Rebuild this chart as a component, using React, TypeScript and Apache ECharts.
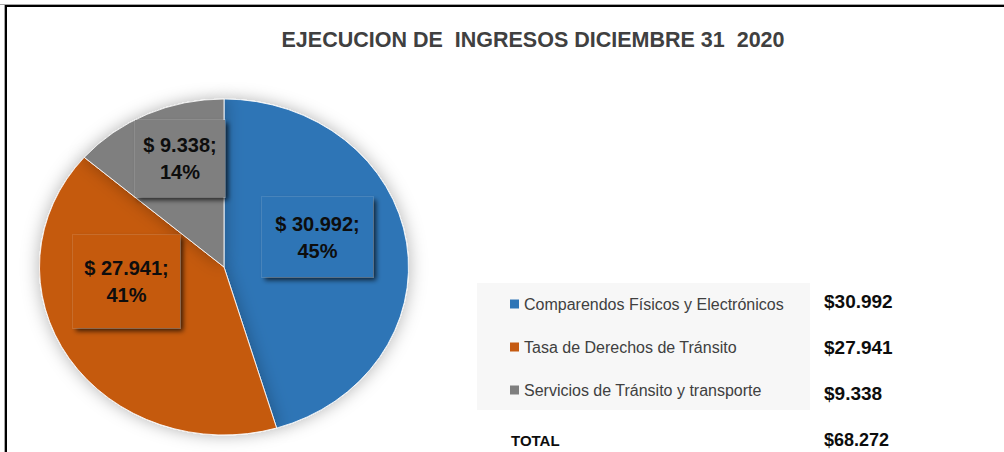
import React, { useEffect, useRef } from "react";
import * as echarts from "echarts";

const chartTitle = "EJECUCION DE  INGRESOS DICIEMBRE 31  2020";
const categories = [
  "Comparendos Físicos y Electrónicos",
  "Tasa de Derechos de Tránsito",
  "Servicios de Tránsito y transporte",
];
const values = [30992, 27941, 9338];
const totalLabel = "TOTAL";
const totalValue = 68272;
const colors = ["#2E75B6", "#C55A11", "#7F7F7F"];

const FONT = "Liberation Sans, Arial, sans-serif";

function fmt(v: number): string {
  return String(v).replace(/\B(?=(\d{3})+(?!\d))/g, ".");
}

// label box layout (centers, widths, paddings)
const labelBoxes = [
  { x: 317.5, y: 237, w: 111, pad: 13 },
  { x: 126.5, y: 281.5, w: 107, pad: 19.5 },
  { x: 180, y: 158.5, w: 90, pad: 11.5 },
];
const valueRowsY = [301, 347, 393];
const totalRowY = 440;

export default function App() {
  const pieRef = useRef<HTMLDivElement>(null);
  const overRef = useRef<HTMLDivElement>(null);

  useEffect(() => {
    const pie = echarts.init(pieRef.current!, null, { renderer: "svg" });
    pie.setOption({
      animation: false,
      series: [
        {
          type: "pie",
          center: [200, 200],
          radius: 168,
          startAngle: 90,
          clockwise: true,
          silent: true,
          label: { show: false },
          labelLine: { show: false },
          itemStyle: {
            borderColor: "#ffffff",
            borderWidth: 0.8,
            shadowBlur: 16,
            shadowColor: "rgba(0,0,0,0.3)",
          },
          data: categories.map((c, i) => ({
            name: c,
            value: values[i],
            itemStyle: { color: colors[i] },
          })),
        },
      ],
    });

    const over = echarts.init(overRef.current!, null, { renderer: "svg" });
    over.setOption({
      animation: false,
      title: {
        text: chartTitle,
        left: 533,
        top: 29,
        textAlign: "center",
        padding: 0,
        textStyle: {
          fontFamily: FONT,
          fontSize: 21.5,
          fontWeight: "bold",
          color: "#404040",
        },
      },
      legend: {
        orient: "vertical",
        left: 510,
        top: 296,
        padding: 0,
        itemWidth: 9,
        itemHeight: 9,
        itemGap: 27,
        icon: "rect",
        selectedMode: false,
        textStyle: {
          fontFamily: FONT,
          fontSize: 16,
          color: "#404040",
          lineHeight: 16,
        },
        data: categories.map((c, i) => ({
          name: c,
          itemStyle: { color: colors[i], opacity: 1 },
        })),
      },
      graphic: [
        { type: "line", shape: { x1: 0, y1: 4.5, x2: 1004, y2: 4.5 }, style: { stroke: "#A6A6A6", lineWidth: 1 } },
        { type: "line", shape: { x1: 4.5, y1: 4, x2: 4.5, y2: 452 }, style: { stroke: "#A6A6A6", lineWidth: 1 } },
        { type: "line", shape: { x1: 5, y1: 6, x2: 1004, y2: 6 }, style: { stroke: "#000000", lineWidth: 2 } },
        { type: "line", shape: { x1: 6, y1: 5, x2: 6, y2: 452 }, style: { stroke: "#000000", lineWidth: 2 } },
        {
          type: "rect",
          shape: { x: 477, y: 283, width: 333, height: 127 },
          style: { fill: "#F7F7F7" },
          z: -1,
        },
        ...values.map((v, i) => ({
          type: "text",
          x: 824,
          y: valueRowsY[i],
          style: {
            text: "$" + fmt(v),
            fontFamily: FONT,
            fontSize: 19,
            fontWeight: "bold",
            fill: "#0D0D0D",
            verticalAlign: "middle",
            align: "left",
          },
        })),
        {
          type: "text",
          x: 511,
          y: totalRowY,
          style: {
            text: totalLabel,
            fontFamily: FONT,
            fontSize: 15,
            fontWeight: "bold",
            fill: "#0D0D0D",
            verticalAlign: "middle",
            align: "left",
          },
        },
        {
          type: "text",
          x: 824,
          y: totalRowY,
          style: {
            text: "$" + fmt(totalValue),
            fontFamily: FONT,
            fontSize: 18,
            fontWeight: "bold",
            fill: "#0D0D0D",
            verticalAlign: "middle",
            align: "left",
          },
        },
      ],
      series: [
        {
          type: "pie",
          center: [224, 267],
          radius: 10,
          silent: true,
          percentPrecision: 0,
          labelLine: { show: false },
          label: {
            show: true,
            opacity: 1,
            position: "inside",
            formatter: (p: any) => "$ " + fmt(p.value) + ";\n" + p.percent + "%",
            fontFamily: FONT,
            fontSize: 20,
            fontWeight: "bold",
            color: "#0D0D0D",
            lineHeight: 27,
            align: "center",
            verticalAlign: "middle",
            borderColor: "rgba(255,255,255,0.1)",
            borderWidth: 1,
            shadowBlur: 5,
            shadowOffsetX: 3,
            shadowOffsetY: 3,
            shadowColor: "rgba(0,0,0,0.7)",
          },
          labelLayout: (params: any) => {
            const b = labelBoxes[params.dataIndex];
            return { x: b.x, y: b.y, align: "center", verticalAlign: "middle" };
          },
          data: categories.map((c, i) => ({
            name: c,
            value: values[i],
            itemStyle: { color: "rgba(0,0,0,0)", borderWidth: 0 },
            label: {
              backgroundColor: colors[i],
              width: labelBoxes[i].w,
              padding: [labelBoxes[i].pad, 0, labelBoxes[i].pad, 0],
            },
          })),
        },
      ],
    });

    return () => {
      pie.dispose();
      over.dispose();
    };
  }, []);

  return (
    <div
      style={{
        position: "absolute",
        left: 0,
        top: 0,
        width: 1004,
        height: 452,
        overflow: "hidden",
        background: "#ffffff",
      }}
    >
      <div
        ref={pieRef}
        style={{
          position: "absolute",
          left: 23.5,
          top: 67,
          width: 400,
          height: 400,
          transform: "scaleX(1.0982)",
          transformOrigin: "200px 200px",
        }}
      />
      <div
        ref={overRef}
        style={{ position: "absolute", left: 0, top: 0, width: 1004, height: 452 }}
      />
    </div>
  );
}
